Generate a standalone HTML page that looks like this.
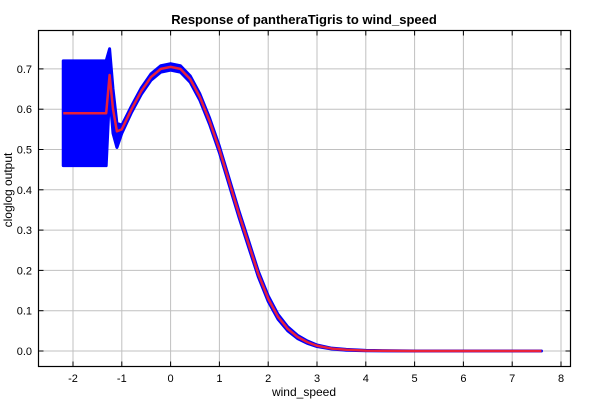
<!DOCTYPE html>
<html><head><meta charset="utf-8"><style>
body{margin:0;background:#fff;width:600px;height:400px;overflow:hidden;font-family:"Liberation Sans",sans-serif}
</style></head><body>
<svg id="chart" width="600" height="400" xmlns="http://www.w3.org/2000/svg" font-family="Liberation Sans, sans-serif"></svg>
<script>
const xVals=[-2.2,-1.32,-1.25,-1.18,-1.1,-1.0,-0.8,-0.6,-0.4,-0.2,0,0.2,0.4,0.6,0.8,1.0,1.2,1.4,1.6,1.8,2.0,2.2,2.4,2.6,2.8,3.0,3.3,3.6,4.0,5,6,7.6];
const meanVals=[0.59,0.59,0.685,0.6,0.545,0.55,0.6,0.645,0.68,0.70,0.705,0.70,0.675,0.63,0.57,0.50,0.42,0.34,0.265,0.19,0.13,0.085,0.055,0.035,0.022,0.013,0.006,0.003,0.001,0,0,0];
const lowerVals=[0.46,0.46,0.64,0.54,0.505,0.54,0.592,0.637,0.672,0.692,0.697,0.692,0.667,0.622,0.562,0.492,0.412,0.332,0.257,0.183,0.123,0.079,0.05,0.031,0.019,0.011,0.005,0.002,0.0005,0,0,0];
const upperVals=[0.72,0.72,0.75,0.65,0.565,0.56,0.608,0.653,0.688,0.708,0.713,0.708,0.683,0.638,0.578,0.508,0.428,0.348,0.273,0.197,0.137,0.091,0.06,0.039,0.025,0.015,0.007,0.004,0.0015,0,0,0];
const xTicks=[-2,-1,0,1,2,3,4,5,6,7,8];
const yTicks=[0,0.1,0.2,0.3,0.4,0.5,0.6,0.7];

const L=38.5,R=570.5,T=30.5,B=366.5;
const sx=v=>170.6+v*48.8;
const sy=v=>351-v*403;
const svg=document.getElementById('chart');
const NS='http://www.w3.org/2000/svg';
function mk(tag,attrs,parent){const e=document.createElementNS(NS,tag);for(const k in attrs)e.setAttribute(k,attrs[k]);(parent||svg).appendChild(e);return e;}

const grid=mk('g',{});


xTicks.forEach(t=>{const x=sx(t);
 const g=mk('line',{x1:x,x2:x,y1:T,y2:B,stroke:'#c0c0c0','stroke-width':1},grid);
 
 const t1=mk('line',{x1:x,x2:x,y1:B,y2:B-5,stroke:'#000'});
 
 const t2=mk('line',{x1:x,x2:x,y1:T,y2:T+5,stroke:'#000'});
 
 const lb=mk('text',{x:x,y:382,'font-size':11,'text-anchor':'middle'});lb.textContent=String(t);
 
});
yTicks.forEach(t=>{const y=sy(t);
 const g=mk('line',{x1:L,x2:R,y1:y,y2:y,stroke:'#c0c0c0','stroke-width':1},grid);
 
 const t1=mk('line',{x1:L,x2:L+5,y1:y,y2:y,stroke:'#000'});
 
 const t2=mk('line',{x1:R,x2:R-5,y1:y,y2:y,stroke:'#000'});
 
 const lb=mk('text',{x:32,y:y+4,'font-size':11,'text-anchor':'end'});lb.textContent=t.toFixed(1);
 
});

let pts=xVals.map((x,i)=>sx(x)+','+sy(upperVals[i]));
for(let i=xVals.length-1;i>=0;i--)pts.push(sx(xVals[i])+','+sy(lowerVals[i]));
const band=mk('polygon',{points:pts.join(' '),fill:'#0000ff',stroke:'#0000ff','stroke-width':3,'stroke-linejoin':'round'});



const line=mk('polyline',{points:xVals.map((x,i)=>sx(x)+','+sy(meanVals[i])).join(' '),fill:'none',stroke:'#e8203a','stroke-width':2.5,'stroke-linejoin':'round'});



const frame=mk('rect',{x:L,y:T,width:R-L,height:B-T,fill:'none',stroke:'#000','stroke-width':1.2});



const title=mk('text',{x:304,y:24,'font-size':13,'font-weight':'bold','text-anchor':'middle'});
title.textContent='Response of pantheraTigris to wind_speed';


const xt=mk('text',{x:304,y:396,'font-size':12,'text-anchor':'middle'});
xt.textContent='wind_speed';


const yt=mk('text',{x:0,y:0,'font-size':12,'text-anchor':'middle',transform:'translate(12,190) rotate(-90)'});
yt.textContent='cloglog output';


</script>
</body></html>
